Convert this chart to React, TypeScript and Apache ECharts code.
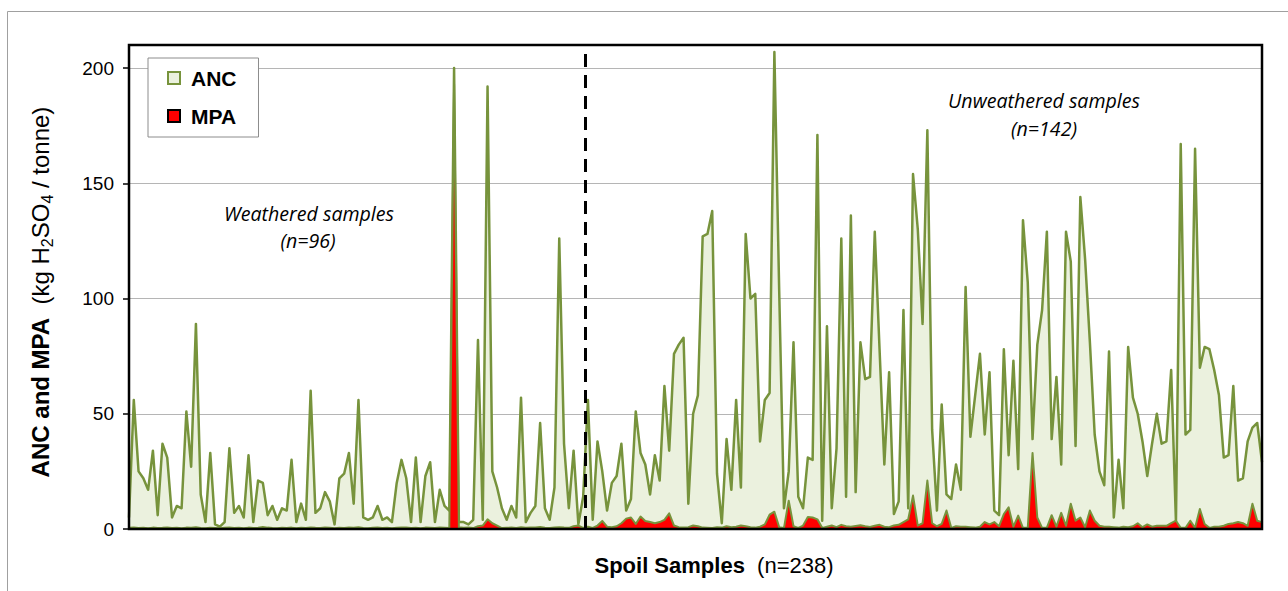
import React, { useEffect, useRef } from 'react';
import * as echarts from 'echarts';

// ANC values per spoil sample (kg H2SO4 / tonne), 238 samples
const anc: number[] = [
  5, 56, 25, 22, 17, 34, 6, 37, 31, 5,
  10, 9, 51, 27, 89, 15, 3, 33, 2, 1,
  3, 35, 7, 10, 5, 32, 3, 21, 20, 6,
  10, 4, 9, 8, 30, 3, 11, 4, 60, 7,
  9, 16, 12, 2, 22, 24, 33, 11, 56, 5,
  4, 5, 10, 4, 5, 3, 20, 30, 22, 3,
  31, 3, 23, 29, 3, 17, 10, 8, 200, 3,
  3, 2, 4, 82, 4, 192, 25, 18, 9, 4,
  10, 5, 57, 3, 7, 10, 46, 9, 4, 18,
  126, 37, 9, 34, 2, 14, 56, 4, 38, 25,
  8, 20, 23, 37, 8, 13, 51, 33, 28, 15,
  32, 21, 62, 34, 76, 80, 83, 11, 50, 58,
  127, 128, 138, 24, 2.5, 39, 17, 56, 18, 128,
  100, 102, 38, 56, 59, 207, 104, 9, 25, 81,
  14, 9, 31, 30, 171, 3.6, 88, 9, 35, 126,
  14, 136, 16, 81, 65, 66, 129, 78, 28, 68,
  6.5, 12, 95, 9, 154, 130, 89, 173, 43, 8,
  54, 15, 13, 28, 17, 105, 40, 58, 76, 41,
  68, 8, 6, 78, 32, 73, 26, 134, 107, 39,
  80, 95, 129, 39, 66, 28, 129, 116, 36, 144,
  117, 81, 41, 25, 19, 77, 5, 30, 9, 79,
  57, 50, 38, 23, 37, 50, 37, 38, 69, 3,
  167, 41, 43, 165, 70, 79, 78, 69, 58, 31,
  32, 62, 21, 22, 38, 44, 46, 29,
];

// MPA values per spoil sample
const mpa: number[] = [
  0.5, 0.6, 0.4, 0.5, 0.3, 0.6, 0.4, 0.5, 0.7, 0.4,
  0.5, 0.3, 0.6, 0.5, 0.8, 0.4, 0.3, 0.5, 0.4, 0.3,
  0.5, 0.7, 0.4, 0.5, 0.3, 0.6, 0.4, 0.5, 0.9, 0.6,
  0.4, 0.3, 0.5, 0.4, 0.6, 0.3, 0.5, 0.4, 0.7, 0.5,
  0.4, 0.6, 0.5, 0.3, 0.5, 0.4, 0.6, 0.5, 0.8, 0.4,
  0.3, 0.5, 0.6, 0.4, 0.5, 0.3, 0.5, 0.7, 0.6, 0.4,
  0.5, 0.3, 0.6, 0.5, 0.4, 0.6, 0.5, 0.4, 193, 0.8,
  0.5, 0.6, 0.4, 1.2, 1.5, 4.2, 2.5, 1.5, 0.4, 0.5,
  0.6, 0.4, 0.8, 0.5, 0.6, 0.7, 0.9, 0.5, 0.4, 0.6,
  0.8, 0.6, 0.5, 1.2, 1.5, 0.5, 1.0, 0.5, 1.5, 3.5,
  1.0, 0.8, 1.2, 2.5, 4.5, 5.0, 2.2, 5.4, 3.5, 3.0,
  2.5, 3.0, 4.0, 6.8, 1.5, 0.8, 0.6, 0.8, 1.5, 1.2,
  0.6, 0.5, 0.4, 0.8, 0.6, 1.2, 0.8, 1.0, 1.5, 1.2,
  0.8, 0.6, 1.0, 2.0, 6.2, 7.5, 0.8, 0.4, 12.3, 1.2,
  0.5, 1.5, 5.2, 5.0, 4.2, 0.5, 1.0, 1.5, 0.8, 1.8,
  1.2, 1.0, 1.3, 1.6, 1.2, 0.9, 1.4, 1.8, 1.0, 0.8,
  1.5, 1.8, 3.0, 4.2, 14.5, 1.5, 2.5, 21, 2.5, 1.2,
  2.2, 8, 0.5, 1.2, 1.0, 1.0, 0.8, 0.6, 1.0, 3.0,
  2.0, 3.0, 1.2, 6.5, 9.4, 1.0, 5.8, 0.5, 0.5, 33,
  5, 0.5, 0.6, 6, 1.0, 7, 1.4, 11, 3.6, 5,
  0.8, 8, 3.6, 1.4, 1.0, 1.0, 0.8, 0.6, 1.0, 0.8,
  1.2, 2.5, 0.8, 2.0, 1.0, 1.4, 1.4, 1.4, 2.5, 3.6,
  0.5, 0.5, 3.6, 0.5, 8.7, 2.2, 0.5, 1.0, 1.0, 1.4,
  2.2, 2.5, 3.0, 2.5, 1.4, 11, 3.6, 3.0,
];

const yTicks: number[] = [0, 50, 100, 150, 200];
const weatheredCount = 96;
const unweatheredCount = 142;
const seriesNames = ['ANC', 'MPA'];

const OLIVE = '#77933C';
const ANC_FILL = '#EBF1DE';
const MPA_FILL = '#FF0000';
const ARIAL = '"Liberation Sans", Arial, sans-serif';
const ITALIC_FONT = '"Open Sans", Lato, sans-serif';

export default function App() {
  const ref = useRef<HTMLDivElement>(null);

  useEffect(() => {
    if (!ref.current) return;
    const chart = echarts.init(ref.current, null, { renderer: 'svg' });
    const ancData = anc.map((v, i) => [i, v]);
    const mpaData = mpa.map((v, i) => [i, v]);
    const total = anc.length;

    const italicText = (text: string, x: number, y: number) => ({
      type: 'text',
      silent: true,
      x,
      y,
      z: 100,
      style: {
        text,
        align: 'center',
        verticalAlign: 'middle',
        fontSize: 19.6,
        fontStyle: 'italic',
        fontFamily: ITALIC_FONT,
        fill: '#000',
      },
    });

    chart.setOption({
      animation: false,
      backgroundColor: '#ffffff',
      grid: { left: 129, right: 26, top: 45, bottom: 62, containLabel: false },
      xAxis: {
        type: 'value',
        min: 0,
        max: total - 1,
        axisLine: { show: false },
        axisTick: { show: false },
        axisLabel: { show: false },
        splitLine: { show: false },
      },
      yAxis: {
        type: 'value',
        min: 0,
        max: 210,
        interval: 50,
        axisLine: { show: false },
        axisTick: {
          show: true,
          inside: false,
          length: 6,
          customValues: yTicks,
          lineStyle: { color: '#000', width: 1.5 },
        },
        axisLabel: {
          customValues: yTicks,
          formatter: (v: number) => (v > 200 ? '' : String(v)),
          color: '#000',
          fontSize: 19,
          fontFamily: ARIAL,
          margin: 15,
        },
        splitLine: { show: true, lineStyle: { color: '#b5b5b5', width: 1 } },
      },
      legend: {
        show: true,
        left: 148,
        top: 58,
        orient: 'vertical',
        icon: 'rect',
        itemWidth: 12,
        itemHeight: 12,
        itemGap: 14,
        padding: [8, 22, 9, 19],
        backgroundColor: '#ffffff',
        borderColor: '#8c8c8c',
        borderWidth: 1,
        borderRadius: 0,
        selectedMode: false,
        textStyle: {
          color: '#000',
          fontSize: 21,
          fontWeight: 'bold',
          fontFamily: ARIAL,
          lineHeight: 24,
          padding: [0, 0, 0, 6],
        },
        data: [
          { name: seriesNames[0], itemStyle: { color: ANC_FILL, borderColor: OLIVE, borderWidth: 2 } },
          { name: seriesNames[1], itemStyle: { color: MPA_FILL, borderColor: '#000', borderWidth: 2 } },
        ],
      },
      series: [
        {
          name: seriesNames[0],
          type: 'line',
          data: ancData,
          symbol: 'none',
          showSymbol: false,
          z: 2,
          lineStyle: { color: OLIVE, width: 2.5, join: 'round' },
          itemStyle: { color: ANC_FILL, borderColor: OLIVE },
          areaStyle: { color: ANC_FILL, opacity: 1 },
        },
        {
          name: seriesNames[1],
          type: 'line',
          data: mpaData,
          symbol: 'none',
          showSymbol: false,
          z: 3,
          lineStyle: { color: OLIVE, width: 2, join: 'round' },
          itemStyle: { color: MPA_FILL, borderColor: '#000' },
          areaStyle: { color: MPA_FILL, opacity: 1 },
          markLine: {
            silent: true,
            symbol: ['none', 'none'],
            label: { show: false },
            lineStyle: { color: '#000', type: [13, 8], width: 3 },
            data: [{ xAxis: weatheredCount - 0.5 }],
          },
        },
      ],
      graphic: [
        {
          type: 'rect',
          silent: true,
          z: -10,
          shape: { x: 7.5, y: 11.5, width: 1300, height: 600 },
          style: { fill: 'none', stroke: '#a0a0a0', lineWidth: 1 },
        },
        {
          type: 'rect',
          silent: true,
          z: 100,
          shape: { x: 129, y: 45, width: 1133, height: 484 },
          style: { fill: 'none', stroke: '#000', lineWidth: 2.5 },
        },
        {
          type: 'text',
          silent: true,
          x: 40,
          y: 292,
          rotation: Math.PI / 2,
          z: 100,
          style: {
            text: '{b|ANC and MPA}{n|  (kg H}{s|2}{n|SO}{s|4}{n| / tonne)}',
            align: 'center',
            verticalAlign: 'middle',
            fill: '#000',
            rich: {
              b: { fontSize: 24, fontWeight: 'bold', fontFamily: ARIAL, fill: '#000', lineHeight: 30 },
              n: { fontSize: 24, fontFamily: ARIAL, fill: '#000', lineHeight: 30 },
              s: { fontSize: 16, fontFamily: ARIAL, fill: '#000', lineHeight: 16, verticalAlign: 'bottom' },
            },
          },
        },
        {
          type: 'text',
          silent: true,
          x: 714,
          y: 565,
          z: 100,
          style: {
            text: '{b|Spoil Samples}{n|  (n=' + (weatheredCount + unweatheredCount) + ')}',
            align: 'center',
            verticalAlign: 'middle',
            rich: {
              b: { fontSize: 22, fontWeight: 'bold', fontFamily: ARIAL, fill: '#000' },
              n: { fontSize: 22, fontFamily: ARIAL, fill: '#000' },
            },
          },
        },
        italicText('Weathered samples', 309, 213),
        italicText('(n=' + weatheredCount + ')', 308, 240),
        italicText('Unweathered samples', 1044, 100),
        italicText('(n=' + unweatheredCount + ')', 1044, 128),
      ],
    });

    return () => {
      chart.dispose();
    };
  }, []);

  return (
    <div
      ref={ref}
      style={{ position: 'absolute', left: 0, top: 0, width: 1288, height: 591, background: '#fff' }}
    />
  );
}
